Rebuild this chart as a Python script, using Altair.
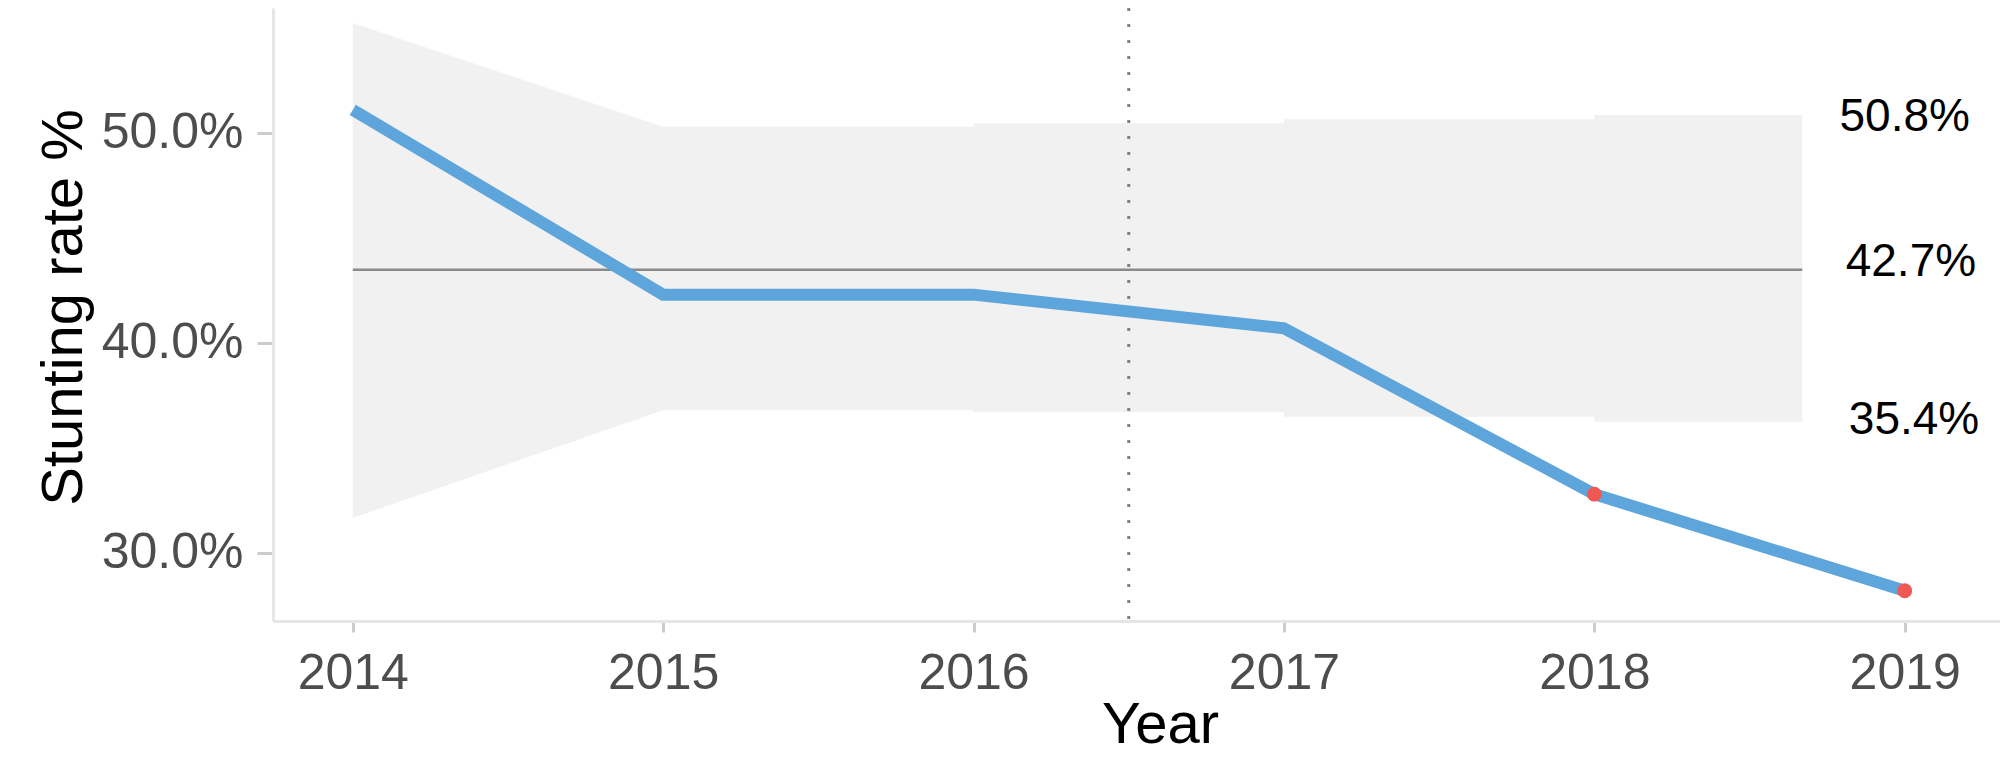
import altair as alt
import pandas as pd

# ---- data ----
years = [2014, 2015, 2016, 2017, 2018, 2019]
rate = [51.1, 42.3, 42.3, 40.7, 32.8, 28.2]
signal = [False, False, False, False, True, True]

band_x = [2014, 2015, 2015.999, 2016.001, 2016.999, 2017.001, 2017.999, 2018.001, 2018.67]
band_hi = [55.24, 50.30, 50.30, 50.46, 50.46, 50.65, 50.65, 50.86, 50.86]
band_lo = [31.67, 36.80, 36.80, 36.70, 36.70, 36.49, 36.49, 36.25, 36.25]

centre_x = [2014, 2018.67]
centre_y = [43.48, 43.48]

phase_x = [2016.5]

label_text = ["50.8%", "42.7%", "35.4%"]
label_x = [2019.0, 2019.02, 2019.03]
label_y = [50.78, 43.87, 36.33]

x_ticks = [2014, 2015, 2016, 2017, 2018, 2019]
y_ticks = [30, 40, 50]

# ---- tables ----
df_line = pd.DataFrame({"year": years, "rate": rate, "signal": signal})
df_band = pd.DataFrame({"year": band_x, "hi": band_hi, "lo": band_lo})
df_centre = pd.DataFrame({"year": centre_x, "y": centre_y})
df_phase = pd.DataFrame({"year": phase_x})
df_lab = pd.DataFrame({"year": label_x, "y": label_y, "text": label_text})

FONT = "Liberation Sans"

x_scale = alt.Scale(domain=[2013.743, 2019.307], nice=False, zero=False)
y_scale = alt.Scale(domain=[26.76, 55.95], nice=False, zero=False)

x_axis = alt.Axis(
    values=x_ticks, format="d", title="Year", grid=False,
    labelFont=FONT, labelFontSize=50, labelColor="#4d4d4d",
    labelPadding=16, labelFlush=False, labelOverlap=False,
    tickSize=11, tickWidth=3, tickColor="#cccccc",
    domainColor="#e6e6e6", domainWidth=3,
    titleFont=FONT, titleFontSize=58, titleFontWeight="normal",
    titleColor="#000000", titleX=887, titleY=121,
    titleBaseline="alphabetic", titleAlign="center",
)
y_axis = alt.Axis(
    values=y_ticks, labelExpr="format(datum.value, '.1f') + '%'",
    title="Stunting rate %", grid=False,
    labelFont=FONT, labelFontSize=50, labelColor="#4d4d4d",
    labelPadding=14, labelOverlap=False,
    tickSize=16, tickWidth=3, tickColor="#cccccc",
    domainColor="#e6e6e6", domainWidth=3,
    titleFont=FONT, titleFontSize=58, titleFontWeight="normal",
    titleColor="#000000", titleAngle=270, titleX=-192, titleY=299,
    titleBaseline="alphabetic", titleAlign="center",
)

band = alt.Chart(df_band).mark_area(color="#f1f1f1", opacity=1).encode(
    x=alt.X("year:Q", scale=x_scale, axis=x_axis),
    y=alt.Y("hi:Q", scale=y_scale, axis=y_axis),
    y2=alt.Y2("lo:Q"),
)

centre = alt.Chart(df_centre).mark_line(color="#8a8a8a", strokeWidth=2.5).encode(
    x=alt.X("year:Q", scale=x_scale),
    y=alt.Y("y:Q", scale=y_scale),
)

phase = alt.Chart(df_phase).mark_rule(
    color="#808080", strokeWidth=3, strokeDash=[3, 13]
).encode(x=alt.X("year:Q", scale=x_scale))

line = alt.Chart(df_line).mark_line(color="#5DA5DA", strokeWidth=12).encode(
    x=alt.X("year:Q", scale=x_scale),
    y=alt.Y("rate:Q", scale=y_scale),
)

points = alt.Chart(df_line).transform_filter("datum.signal").mark_point(
    filled=True, color="#F15854", size=220, opacity=1, shape="circle"
).encode(
    x=alt.X("year:Q", scale=x_scale),
    y=alt.Y("rate:Q", scale=y_scale),
)

labels = alt.Chart(df_lab).mark_text(
    font=FONT, fontSize=46, color="#000000", align="center", baseline="middle"
).encode(
    x=alt.X("year:Q", scale=x_scale),
    y=alt.Y("y:Q", scale=y_scale),
    text="text:N",
)

chart = alt.layer(band, centre, phase, line, points, labels).properties(
    width=1727,
    height=613,
    autosize=alt.AutoSizeParams(type="none"),
    padding={"left": 265, "top": 0, "right": 0, "bottom": 141},
    background="#ffffff",
).configure_view(stroke=None)

chart.save("out.html", embed_options={"renderer": "svg", "actions": False})
